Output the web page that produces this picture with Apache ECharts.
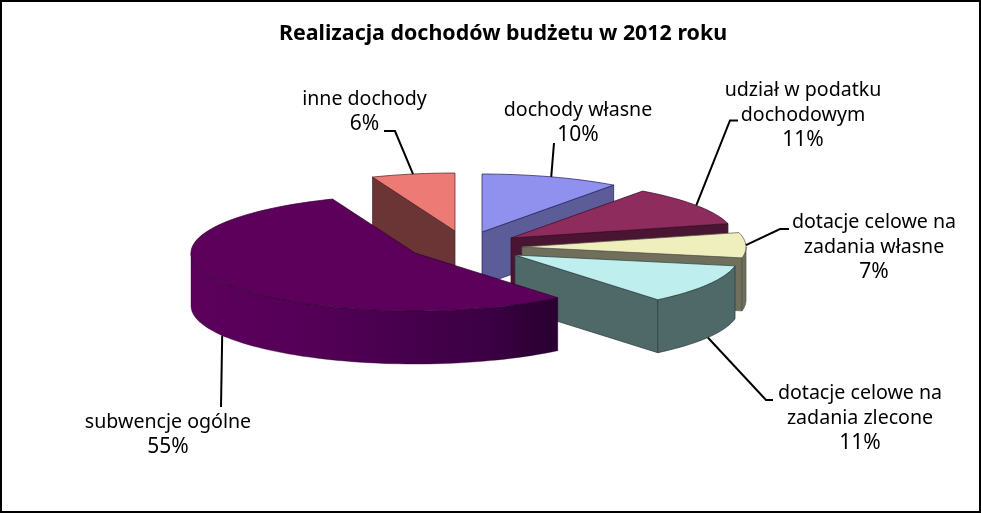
<!DOCTYPE html>
<html>
<head>
<meta charset="utf-8">
<style>html,body{margin:0;padding:0;background:#fff;overflow:hidden}#c{width:981px;height:513px}</style>
<script src="https://cdn.jsdelivr.net/npm/echarts@6/dist/echarts.min.js"></script>
</head>
<body>
<div id="c"></div>
<script>
// --- data (clockwise from 12 o'clock) ---
const titleText = 'Realizacja dochodów budżetu w 2012 roku';
const categories = ['dochody własne', 'udział w podatku dochodowym', 'dotacje celowe na zadania własne', 'dotacje celowe na zadania zlecone', 'subwencje ogólne', 'inne dochody'];
const labelLines = [['dochody własne'], ['udział w podatku', 'dochodowym'], ['dotacje celowe na', 'zadania własne'], ['dotacje celowe na', 'zadania zlecone'], ['subwencje ogólne'], ['inne dochody']];
const values = [10, 11, 7, 11, 55, 6];

// --- styles / layout ---
const topColors  = ['#9090EE', '#8E2C5E', '#EFEFBE', '#BEEEEE', '#5C005C', '#EE7A76'];
const wallColors = ['#5C5C99', '#4A1533', '#6F6F5C', '#4F6969', '#5C005C', '#6B3535'];
const edgeColors = ['#20205a', '#3a0a24', '#55554a', '#2a3c3c', '#2c002c', '#4a2020'];
const drawOrder = [5, 0, 1, 2, 3, 4];
const centre = [469, 242];
const radiusX = 224, radiusY = 58, depth = 53;
const explode = [[13, -10], [42, -4], [53, 5], [46, 13], [-54, 11], [-14, -11]];
const labelCentreX = [578, 803, 874, 860, 168, 364.5];
const labelFirstLineY = [110, 90.5, 222.5, 393.5, 422.5, 99];
const lineHeight = 25;
const leaderEnds = [[[554, 143]], [[738, 120.5], [730, 120.5]], [[789, 229], [780, 229]], [[773, 400], [766, 400]], [[221, 407]], [[384, 131], [395, 131]]];
const labelFont = 'Tahoma, "Noto Sans", sans-serif';

// --- derived slice angles ---
const total = values.reduce((a, b) => a + b, 0);
const angles = [];
values.reduce((acc, v, i) => { angles[i] = [acc, acc + v / total * 360]; return acc + v / total * 360; }, 0);

function apex(i) { return [centre[0] + explode[i][0], centre[1] + explode[i][1]]; }
function rim(i, deg, dy) {
  const a = apex(i), r = deg * Math.PI / 180;
  return [a[0] + radiusX * Math.sin(r), a[1] - radiusY * Math.cos(r) + (dy || 0)];
}
function arcPoints(i, from, to, dy) {
  const pts = [], n = Math.max(2, Math.ceil(Math.abs(to - from) / 2));
  for (let k = 0; k <= n; k++) pts.push(rim(i, from + (to - from) * k / n, dy));
  return pts;
}
function poly(points, fill, stroke, w) {
  return { type: 'polygon', shape: { points }, style: { fill, stroke, lineWidth: w === undefined ? 0.7 : w, lineJoin: 'round' }, silent: true };
}
function cutFace(i, deg) {
  const a = apex(i), p = rim(i, deg);
  return poly([a, p, [p[0], p[1] + depth], [a[0], a[1] + depth]], wallColors[i], edgeColors[i]);
}
function renderSlice(params, api) {
  const i = api.value(0), s = angles[i][0], e = angles[i][1];
  const children = [];
  const sin = d => Math.sin(d * Math.PI / 180);
  if (sin(s) < -1e-6) children.push(cutFace(i, s));
  if (sin(e) > 1e-6) children.push(cutFace(i, e));
  const f = Math.max(s, 90), t = Math.min(e, 270);
  if (t > f) {
    const pts = arcPoints(i, f, t, 0).concat(arcPoints(i, t, f, depth));
    let fill = wallColors[i];
    if (i === 4) {
      fill = { type: 'linear', x: 190, y: 0, x2: 558, y2: 0, global: true, colorStops: [
        { offset: 0, color: '#5C005C' }, { offset: 0.3, color: '#550058' }, { offset: 0.8, color: '#3C0044' }, { offset: 1, color: '#280030' } ] };
    }
    children.push(poly(pts, fill, i === 4 ? 'rgba(40,0,40,0.5)' : edgeColors[i]));
  }
  children.push(poly([apex(i)].concat(arcPoints(i, s, e, 0)), topColors[i], edgeColors[i]));
  return { type: 'group', children };
}
function renderLabel(params, api) {
  const i = api.value(0), pct = api.value(1);
  const mid = (angles[i][0] + angles[i][1]) / 2;
  const front = Math.cos(mid * Math.PI / 180) < -0.2;
  const anchor = rim(i, mid, front ? depth : 0);
  const children = [{
    type: 'polyline', silent: true,
    shape: { points: leaderEnds[i].concat([anchor]) },
    style: { fill: 'none', stroke: '#000', lineWidth: 2 }
  }];
  labelLines[i].concat([pct + '%']).forEach((txt, k, all) => children.push({
    type: 'text', silent: true,
    style: { x: labelCentreX[i], y: labelFirstLineY[i] + k * lineHeight, text: txt, fill: '#000',
      font: (k === all.length - 1 ? '21px ' : '19.6px ') + labelFont, align: 'center', verticalAlign: 'middle' }
  }));
  return { type: 'group', children };
}

const chart = echarts.init(document.getElementById('c'), null, { renderer: 'canvas' });
chart.setOption({
  animation: false,
  backgroundColor: '#fff',
  title: { text: titleText, left: 498, top: 18, textAlign: 'center',
    textStyle: { fontFamily: labelFont, fontWeight: 'bold', fontSize: 21.4, color: '#000' } },
  graphic: [{ type: 'rect', silent: true, shape: { x: 1, y: 1, width: 979, height: 511 }, style: { fill: 'none', stroke: '#000', lineWidth: 2 } }],
  series: [
    { type: 'custom', coordinateSystem: 'none', renderItem: renderSlice, silent: true,
      data: drawOrder.map(i => ({ name: categories[i], value: [i, values[i]] })) },
    { type: 'custom', coordinateSystem: 'none', renderItem: renderLabel, silent: true, z: 5,
      data: drawOrder.map(i => ({ name: categories[i], value: [i, values[i]] })) }
  ]
});
</script>
</body>
</html>
